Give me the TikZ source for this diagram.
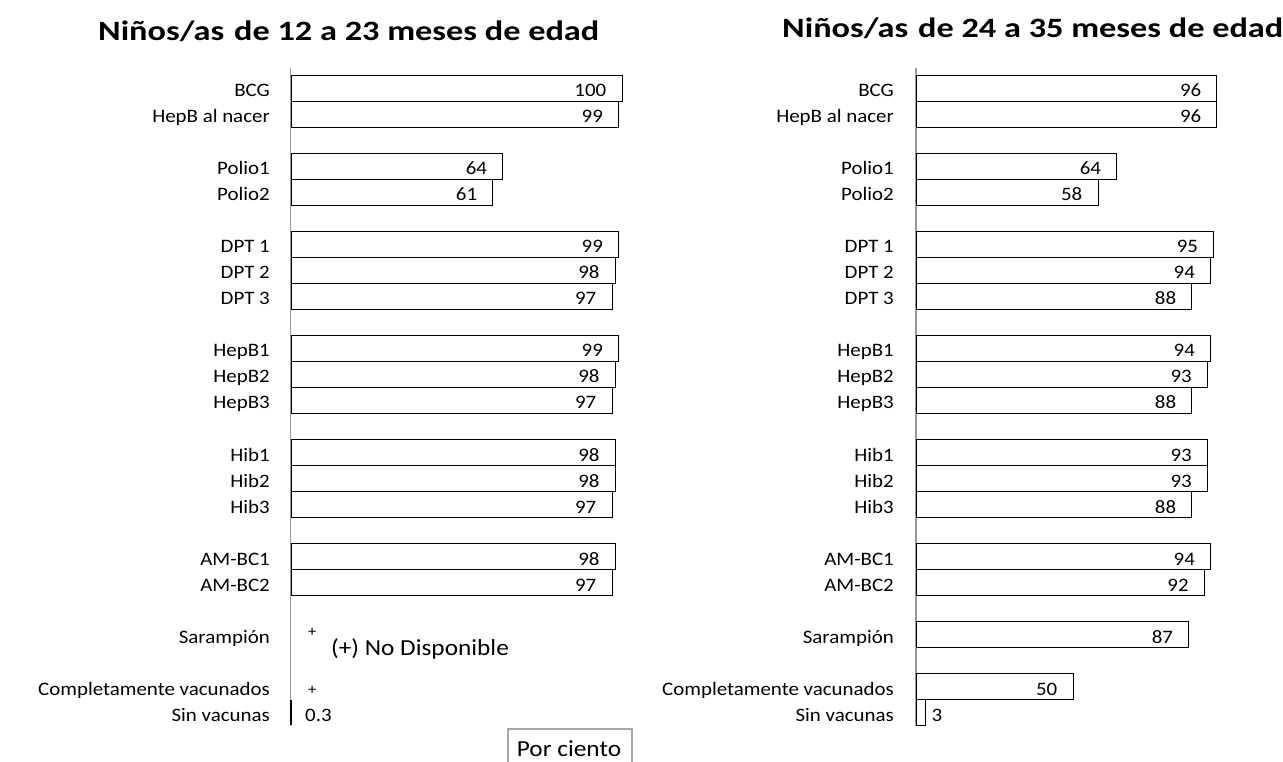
\documentclass[tikz,border=0pt]{standalone}
\usepackage{fontspec}
\setmainfont{Carlito}[FakeStretch=1.1]
\newfontfamily\titlefont{Carlito}[FakeStretch=1.225]
\begin{document}
\begin{tikzpicture}[x=1pt,y=-1pt,
  catlabel/.style={anchor=base east, font=\fontsize{19}{21}\selectfont, inner sep=0pt},
  vallabel/.style={anchor=base east, font=\fontsize{19}{21}\selectfont, inner sep=0pt},
  outlabel/.style={anchor=base west, font=\fontsize{19}{21}\selectfont, inner sep=0pt},
  notelabel/.style={font=\fontsize{23}{25}\selectfont, inner sep=0pt},
  barbox/.style={draw=black, line width=0.9pt, fill=white, inner sep=0pt, minimum height=26pt, anchor=west},
  axisline/.style={draw=black!40, line width=1.6pt},
  charttitle/.style={font=\titlefont\fontsize{28}{32}\selectfont\bfseries, anchor=base west, inner sep=0pt},
  notebox/.style={draw=black!35, line width=1.6pt, fill=white, minimum width=124pt, minimum height=40pt, inner sep=0pt, anchor=north west}
]
\useasboundingbox (0,0) rectangle (1283,762);
\clip (0,0) rectangle (1283,762);
\fill[white] (0,0) rectangle (1283,762);

% titles
\node[charttitle] (tL) at (98,41) {Niños/as\hspace{0.35em}de 12 a 23 meses de edad};
\node[charttitle] (tR) at (782,38) {Niños/as\hspace{0.35em}de 24 a 35 meses de edad};

% axes
\coordinate (aLt) at (290.5,68);
\coordinate (aLb) at (290.5,726);
\coordinate (aRt) at (916,68);
\coordinate (aRb) at (916,726);
\draw[axisline] (aLt) -- (aLb);
\draw[axisline] (aRt) -- (aRb);

% left chart
\foreach \i/\lab/\v in {0/BCG/100, 1/HepB al nacer/99, 3/Polio1/64, 4/Polio2/61,
  6/DPT 1/99, 7/DPT 2/98, 8/DPT 3/97, 10/HepB1/99, 11/HepB2/98, 12/HepB3/97,
  14/Hib1/98, 15/Hib2/98, 16/Hib3/97, 18/AM-BC1/98, 19/AM-BC2/97} {
  \pgfmathsetmacro\yy{88+26.04*\i}
  \pgfmathsetmacro\ww{3.31*\v}
  \node[catlabel] (Lc\i) at (270,\yy+8.5) {\lab};
  \node[barbox, minimum width=\ww pt] (Lb\i) at (290.5,\yy) {};
  \node[vallabel] (Lv\i) at ([xshift=-16pt,yshift=-8.5pt]Lb\i.east) {\v};
}
\node[catlabel] (Lc21) at (270,643.3) {Sarampión};
\node[catlabel] (Lc23) at (270,695.4) {Completamente vacunados};
\node[catlabel] (Lc24) at (270,721.4) {Sin vacunas};
\node[anchor=west, font=\fontsize{15}{16}\selectfont, inner sep=0pt] (Lp21) at (308,632) {+};
\node[notelabel, anchor=base west] (Lnd) at (331,655) {(+) No Disponible};
\node[anchor=west, font=\fontsize{15}{16}\selectfont, inner sep=0pt] (Lp23) at (308,690) {+};
\node[draw=black, line width=0.9pt, fill=black, inner sep=0pt, minimum width=1pt, minimum height=24pt, anchor=west] (Lb24) at (290,712.9) {};
\node[outlabel] (Lv24) at (305,721.4) {0.3};

% right chart
\foreach \i/\lab/\v in {0/BCG/96, 1/HepB al nacer/96, 3/Polio1/64, 4/Polio2/58,
  6/DPT 1/95, 7/DPT 2/94, 8/DPT 3/88, 10/HepB1/94, 11/HepB2/93, 12/HepB3/88,
  14/Hib1/93, 15/Hib2/93, 16/Hib3/88, 18/AM-BC1/94, 19/AM-BC2/92,
  21/Sarampión/87, 23/Completamente vacunados/50} {
  \pgfmathsetmacro\yy{88+26.04*\i}
  \pgfmathsetmacro\ww{3.13*\v}
  \node[catlabel] (Rc\i) at (894,\yy+8.5) {\lab};
  \node[barbox, minimum width=\ww pt] (Rb\i) at (916,\yy) {};
  \node[vallabel] (Rv\i) at ([xshift=-16pt,yshift=-8.5pt]Rb\i.east) {\v};
}
\node[catlabel] (Rc24) at (894,721.4) {Sin vacunas};
\node[barbox, minimum width=9.4pt] (Rb24) at (916,712.9) {};
\node[outlabel] (Rv24) at ([xshift=5pt,yshift=-8.5pt]Rb24.east) {3};

% note box
\node[notebox] (pc) at (507,728) {};
\node[notelabel, anchor=base] (pct) at (569,756) {Por ciento};
\end{tikzpicture}
\end{document}
